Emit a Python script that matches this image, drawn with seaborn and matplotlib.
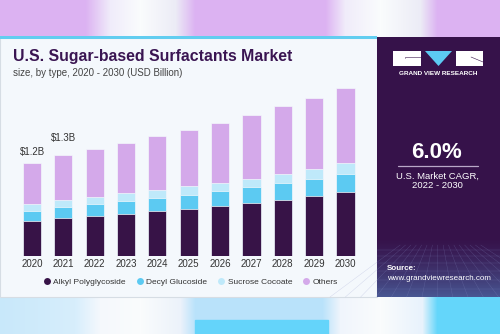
import numpy as np
import pandas as pd
import matplotlib
matplotlib.use("Agg")
import matplotlib.pyplot as plt
from matplotlib.patches import Rectangle, Polygon
from matplotlib.lines import Line2D
import seaborn as sns

years = ["2020", "2021", "2022", "2023", "2024", "2025", "2026", "2027", "2028", "2029", "2030"]
alkyl = [0.452, 0.486, 0.516, 0.546, 0.581, 0.610, 0.645, 0.688, 0.726, 0.774, 0.822]
decyl = [0.133, 0.150, 0.155, 0.164, 0.172, 0.181, 0.194, 0.203, 0.215, 0.223, 0.241]
sucrose = [0.083, 0.086, 0.094, 0.099, 0.099, 0.116, 0.107, 0.107, 0.120, 0.125, 0.133]
others = [0.533, 0.581, 0.612, 0.645, 0.693, 0.719, 0.766, 0.822, 0.870, 0.920, 0.975]
series_names = ["Alkyl Polyglycoside", "Decyl Glucoside", "Sucrose Cocoate", "Others"]
bar_labels = {"2020": "$1.2B", "2021": "$1.3B"}

colors = ["#371347", "#5ccaf2", "#bfe9fa", "#d4a9ea"]

sns.set_theme(style="white")
plt.rcParams["font.family"] = ["Liberation Sans", "DejaVu Sans"]

W, H = 500, 334
fig = plt.figure(figsize=(5, 3.34), dpi=100)

# ---------- background layer (pixel coordinates) ----------
bg = fig.add_axes([0, 0, 1, 1])
bg.set_xlim(0, W)
bg.set_ylim(H, 0)
bg.axis("off")

def band(keys, y0, y1):
    xs = np.arange(W)
    kx = [k[0] for k in keys]
    arr = np.zeros((1, W, 3))
    for c in range(3):
        arr[0, :, c] = np.interp(xs, kx, [k[1][c] for k in keys]) / 255.0
    bg.imshow(arr, extent=(0, W, y1, y0), aspect="auto", zorder=0)

P = (220, 178, 242)
Wt = (250, 252, 253)
band([(0, P), (85, P), (110, (240, 236, 250)), (140, Wt), (175, (236, 236, 246)), (195, P),
      (325, P), (345, (240, 236, 250)), (380, Wt), (420, (236, 236, 246)), (437, P), (500, P)], 0, 37)
B1 = (200, 232, 250)
B2 = (185, 226, 250)
B3 = (100, 214, 250)
band([(0, B1), (75, (215, 238, 252)), (100, (245, 248, 252)), (140, Wt), (180, (236, 242, 250)),
      (195, B2), (322, B2), (340, (240, 245, 252)), (380, Wt), (422, (232, 242, 252)), (437, B3), (500, B3)], 297, H)
bg.add_patch(Rectangle((195, 320), 133, 14, color=(100 / 255, 212 / 255, 250 / 255), zorder=1))

# card
bg.add_patch(Rectangle((0, 38), 377, 259, facecolor="#f4f8fc", edgecolor="#d6dde4", lw=0.8, zorder=2))
bg.add_patch(Rectangle((0, 36), 377, 3, facecolor="#62cdf0", edgecolor="none", zorder=3))

# dark panel
bg.add_patch(Rectangle((377, 37), 123, 260, facecolor="#36124a", edgecolor="none", zorder=2))
grad = np.zeros((60, 1, 3))
top_c = np.array([54, 18, 74]) / 255
bot_c = np.array([72, 86, 146]) / 255
for i in range(60):
    t = (i / 59) ** 1.3
    grad[i, 0] = top_c * (1 - t) + bot_c * t
bg.imshow(grad, extent=(377, 500, 297, 237), aspect="auto", zorder=3)
for gx in np.linspace(330, 560, 16):
    bg.plot([gx, 438 + (gx - 438) * 0.35], [297, 245], color="#8a90c8", lw=0.3, alpha=0.35, zorder=4)
for gy in [250, 256, 263, 271, 280, 289]:
    bg.plot([377, 500], [gy, gy], color="#8a90c8", lw=0.3, alpha=0.35, zorder=4)

# logo
bg.add_patch(Rectangle((393, 51), 28, 15, facecolor="white", edgecolor="none", zorder=5))
bg.add_patch(Polygon([(425, 51), (452, 51), (438.5, 66)], closed=True, facecolor="#5ccaf2", edgecolor="none", zorder=5))
bg.add_patch(Rectangle((456, 51), 27, 15, facecolor="white", edgecolor="none", zorder=5))
bg.plot([405, 405, 421], [58, 57, 57], color="#36124a", lw=0.4, zorder=6)
bg.plot([471, 483], [57, 62], color="#36124a", lw=0.4, zorder=6)
bg.text(438, 73.5, "GRAND VIEW RESEARCH", color="white", fontsize=4.6, fontweight="bold",
        ha="center", va="center", zorder=6)

bg.text(437, 152, "6.0%", color="white", fontsize=16, fontweight="bold", ha="center", va="center", zorder=6)
bg.plot([398, 478], [166, 166], color="#b9a8c8", lw=0.9, zorder=6)
bg.text(437, 176, "U.S. Market CAGR,", color="white", fontsize=6.8, ha="center", va="center", zorder=6)
bg.text(437, 186, "2022 - 2030", color="white", fontsize=6.8, ha="center", va="center", zorder=6)
bg.text(387, 269, "Source:", color="white", fontsize=5.8, fontweight="bold", ha="left", va="center", zorder=6)
bg.text(387, 278.5, "www.grandviewresearch.com", color="white", fontsize=5.8, ha="left", va="center", zorder=6)

# titles
bg.text(13, 57, "U.S. Sugar-based Surfactants Market", color="#3a1552", fontsize=11.4,
        fontweight="bold", ha="left", va="center", zorder=6)
bg.text(13, 73.5, "size, by type, 2020 - 2030 (USD Billion)", color="#444444", fontsize=7,
        ha="left", va="center", zorder=6)

# ---------- chart ----------
spacing = 31.35
x_first = 32.0
left_px = x_first - 0.7 * spacing
right_px = x_first + 10.7 * spacing
base_px = 256.0
px_per_b = 77.5
ymax = 2.4
ax = fig.add_axes([left_px / W, (H - base_px) / H, (right_px - left_px) / W, ymax * px_per_b / H])
ax.set_facecolor("none")

df = pd.DataFrame({"year": years, "a": alkyl, "d": decyl, "s": sucrose, "o": others})
df["c1"] = df["a"]
df["c2"] = df["a"] + df["d"]
df["c3"] = df["c2"] + df["s"]
df["c4"] = df["c3"] + df["o"]

for col, color in zip(["c4", "c3", "c2", "c1"], colors[::-1]):
    sns.barplot(data=df, x="year", y=col, color=color, saturation=1, width=0.58,
                edgecolor="#f4f8fc", linewidth=0.5, ax=ax)

ax.set_xlim(-0.7, 10.7)
ax.set_ylim(0, ymax)
ax.set_xlabel("")
ax.set_ylabel("")
ax.set_yticks([])
for sp in ax.spines.values():
    sp.set_visible(False)
ax.tick_params(axis="x", length=0, pad=2.5, labelsize=7, labelcolor="#333333")

label_offsets = {"2020": 10.5, "2021": 17.5}
for i, y in enumerate(years):
    if y in bar_labels:
        top = df["c4"].iloc[i]
        ax.annotate(bar_labels[y], (i, top), xytext=(0, label_offsets[y] * 0.72), textcoords="offset points",
                    ha="center", va="center", fontsize=7, color="#333333")

# legend
handles = [Line2D([], [], marker="o", linestyle="none", markersize=5, markerfacecolor=c,
                  markeredgecolor="none") for c in colors]
fig.legend(handles, series_names, loc="center", bbox_to_anchor=(190 / W, (H - 282) / H), ncol=4,
           frameon=False, fontsize=6.0, handletextpad=0.15, columnspacing=1.1, handlelength=1.2,
           labelcolor="#333333")

fig.savefig("out.png", dpi=100)
